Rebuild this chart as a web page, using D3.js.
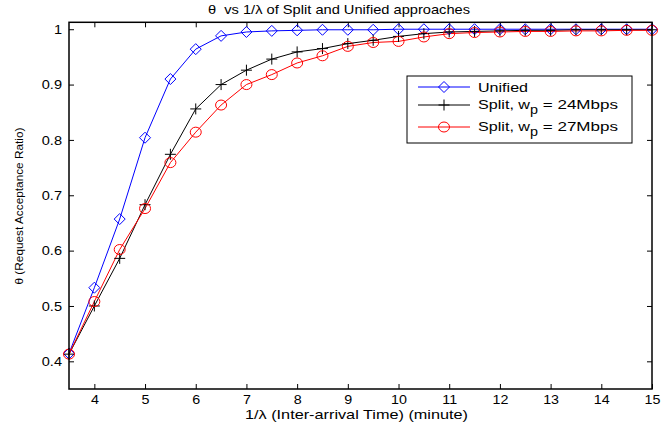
<!DOCTYPE html>
<html><head><meta charset="utf-8">
<script src="https://cdn.jsdelivr.net/npm/d3@7"></script>
<style>body{margin:0;background:#fff;} svg{display:block;font-family:"Liberation Sans",Arial,sans-serif;}</style>
</head><body><svg id="c" width="662" height="429"></svg>
<script>
const xValues = [3.5,4,4.5,5,5.5,6,6.5,7,7.5,8,8.5,9,9.5,10,10.5,11,11.5,12,12.5,13,13.5,14,14.5,15];
const unified = [0.414,0.533,0.657,0.804,0.910,0.964,0.988,0.995,0.997,0.998,0.999,0.999,0.999,1,1,1,1,1,1,1,1,1,1,1];
const split24 = [0.413,0.500,0.586,0.683,0.774,0.856,0.900,0.926,0.946,0.959,0.965,0.974,0.980,0.987,0.992,0.995,0.996,0.997,0.998,0.998,0.999,0.999,0.999,0.999];
const split27 = [0.413,0.508,0.602,0.676,0.759,0.814,0.863,0.900,0.918,0.939,0.952,0.969,0.976,0.978,0.986,0.992,0.994,0.995,0.996,0.996,0.997,0.997,0.998,0.998];
const xTicks = [4,5,6,7,8,9,10,11,12,13,14,15];
const yTicks = [0.4,0.5,0.6,0.7,0.8,0.9,1];

const svg = d3.select("#c");
const L=69,R=652,T=22.3,B=389;
const x = d3.scaleLinear().domain([3.5,15]).range([L,R]);
const y = d3.scaleLinear().domain([0.35,1.0125]).range([B,T]);

const series = [
 {name:"Unified", vals:unified, color:"#0000ff", marker:"diamond"},
 {name:"Split24", vals:split24, color:"#000000", marker:"plus"},
 {name:"Split27", vals:split27, color:"#ff0000", marker:"circle"}
];

function stretch(sel, factor){
  sel.each(function(){
    const len = this.getComputedTextLength();
    if(len>0) d3.select(this).attr("textLength", len*factor).attr("lengthAdjust","spacingAndGlyphs");
  });
}
function fitTo(sel, target){
  sel.attr("textLength", target).attr("lengthAdjust","spacingAndGlyphs");
}

function drawMarker(g, type, color, cx, cy){
  if(type==="diamond"){
    g.append("path").attr("d",`M${cx},${cy-5.5}L${cx+5.5},${cy}L${cx},${cy+5.5}L${cx-5.5},${cy}Z`)
     .attr("fill","none").attr("stroke",color).attr("stroke-width",1);
  } else if(type==="plus"){
    g.append("path").attr("d",`M${cx-5.5},${cy}H${cx+5.5}M${cx},${cy-5.5}V${cy+5.5}`)
     .attr("fill","none").attr("stroke",color).attr("stroke-width",1);
  } else {
    g.append("ellipse").attr("cx",cx).attr("cy",cy).attr("rx",5.5).attr("ry",5)
     .attr("fill","none").attr("stroke",color).attr("stroke-width",1);
  }
}

// axes ticks
const xb = d3.axisBottom(x).tickValues(xTicks).tickSize(-5).tickPadding(6).tickFormat(d3.format("d"));
const gx = svg.append("g").attr("transform",`translate(0,${B})`).call(xb);
const xt = d3.axisTop(x).tickValues(xTicks).tickSize(-5).tickFormat("");
const gxt = svg.append("g").attr("transform",`translate(0,${T})`).call(xt);
const yl = d3.axisLeft(y).tickValues(yTicks).tickSize(-5).tickPadding(7).tickFormat(d=>d===1?"1":d3.format(".1f")(d));
const gy = svg.append("g").attr("transform",`translate(${L},0)`).call(yl);
const yr = d3.axisRight(y).tickValues(yTicks).tickSize(-5).tickFormat("");
const gyr = svg.append("g").attr("transform",`translate(${R},0)`).call(yr);
[gx,gxt,gy,gyr].forEach(g=>{
  g.select(".domain").remove();
  g.selectAll(".tick line").attr("stroke","#000").attr("stroke-width",1);
  g.selectAll("text").attr("fill","#000").style("font-size","13px").style("font-family","Liberation Sans, Arial, sans-serif");
});
stretch(gx.selectAll("text"),1.1);
stretch(gy.selectAll("text"),1.12);

// data lines
series.forEach(s=>{
  const line = d3.line().x((d,i)=>x(xValues[i])).y(d=>y(d));
  svg.append("path").datum(s.vals).attr("d",line).attr("fill","none").attr("stroke",s.color).attr("stroke-width",1);
});
series.forEach(s=>{
  const g = svg.append("g");
  s.vals.forEach((v,i)=>drawMarker(g,s.marker,s.color,x(xValues[i]),y(v)));
});

// frame
svg.append("rect").attr("x",L).attr("y",T).attr("width",R-L).attr("height",B-T)
  .attr("fill","none").attr("stroke","#000").attr("stroke-width",1.5);

// title
const title = svg.append("text").attr("x",339).attr("y",13.5).attr("text-anchor","middle")
  .style("font-size","13px").style("white-space","pre").attr("fill","#000").text("θ  vs 1/λ of Split and Unified approaches");
fitTo(title,262);

// x label
const xlab = svg.append("text").attr("x",356.5).attr("y",419).attr("text-anchor","middle").style("font-size","13px")
  .text("1/λ (Inter-arrival Time) (minute)");
fitTo(xlab,223);

// y label
const ylab = svg.append("text").attr("transform","translate(23,206) rotate(-90)").attr("text-anchor","middle")
  .style("font-size","11px").text("θ (Request Acceptance Ratio)");
fitTo(ylab,157);

// legend
const lg = svg.append("g");
lg.append("rect").attr("x",407).attr("y",76).attr("width",225).attr("height",67)
  .attr("fill","#fff").attr("stroke","#000").attr("stroke-width",1);
const rows=[87,105,127];
series.forEach((s,i)=>{
  lg.append("line").attr("x1",418).attr("x2",470).attr("y1",rows[i]).attr("y2",rows[i]).attr("stroke",s.color).attr("stroke-width",1);
  drawMarker(lg,s.marker,s.color,444,rows[i]);
});
const t0 = lg.append("text").attr("x",478).attr("y",rows[0]+5).style("font-size","13px").text("Unified");
fitTo(t0,50);
[1,2].forEach(i=>{
  const t = lg.append("text").attr("x",478).attr("y",rows[i]+3.5).style("font-size","13px");
  const a = t.append("tspan").text("Split, w");
  const b = t.append("tspan").attr("dy",5).style("font-size","12.5px").text("p");
  const c = t.append("tspan").attr("dy",-5).text(i===1?" = 24Mbps":" = 27Mbps");
  fitTo(a,52); fitTo(b,8); fitTo(c,80);
});
</script></body></html>
